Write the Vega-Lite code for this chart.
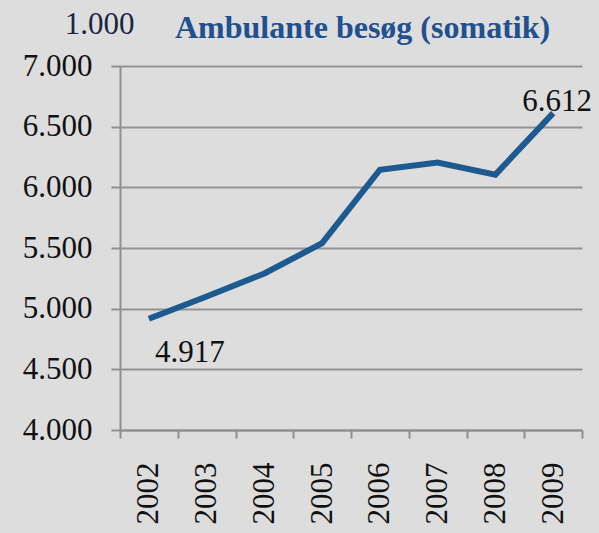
{
  "$schema": "https://vega.github.io/schema/vega-lite/v6.json",
  "autosize": "none",
  "width": 462,
  "height": 364,
  "padding": {"left": 120, "top": 66, "right": 17, "bottom": 103},
  "background": "#dddddd",
  "config": {
    "view": {"stroke": null},
    "font": "Liberation Serif"
  },
  "title": {
    "text": "Ambulante besøg (somatik)",
    "anchor": "start",
    "frame": "group",
    "dx": 55,
    "dy": 42,
    "font": "Liberation Serif",
    "fontSize": 32,
    "fontWeight": "bold",
    "color": "#22508f",
    "baseline": "alphabetic",
    "offset": -20
  },
  "data": {
    "values": [
      {"year": "2002", "value": 4917, "label": "4.917"},
      {"year": "2003", "value": 5100, "label": ""},
      {"year": "2004", "value": 5290, "label": ""},
      {"year": "2005", "value": 5540, "label": ""},
      {"year": "2006", "value": 6145, "label": ""},
      {"year": "2007", "value": 6205, "label": ""},
      {"year": "2008", "value": 6105, "label": ""},
      {"year": "2009", "value": 6612, "label": "6.612"}
    ]
  },
  "encoding": {
    "x": {
      "field": "year",
      "type": "ordinal",
      "scale": {"type": "band", "paddingInner": 0, "paddingOuter": 0},
      "axis": {
        "title": null,
        "labelAngle": -90,
        "labelFont": "Liberation Serif",
        "labelFontSize": 31,
        "labelColor": "#111111",
        "labelPadding": 24,
        "tickBand": "extent",
        "tickSize": 8,
        "tickWidth": 2,
        "tickColor": "#8f8f8f",
        "domainColor": "#8f8f8f",
        "domainWidth": 2,
        "grid": false
      }
    },
    "y": {
      "field": "value",
      "type": "quantitative",
      "scale": {"domain": [4000, 7000], "nice": false, "zero": false},
      "axis": {
        "values": [4000, 4500, 5000, 5500, 6000, 6500, 7000],
        "labelExpr": "replace(format(datum.value, ',.0f'), ',', '.')",
        "labelFont": "Liberation Serif",
        "labelFontSize": 31,
        "labelColor": "#111111",
        "labelPadding": 19,
        "tickSize": 9,
        "tickWidth": 2,
        "tickColor": "#8f8f8f",
        "domainColor": "#8f8f8f",
        "domainWidth": 2,
        "grid": true,
        "gridColor": "#939393",
        "gridWidth": 2,
        "title": "1.000",
        "titleFont": "Liberation Serif",
        "titleFontSize": 31,
        "titleFontWeight": "normal",
        "titleColor": "#1a2440",
        "titleAngle": 0,
        "titleAlign": "right",
        "titleBaseline": "alphabetic",
        "titleX": 14,
        "titleY": -33
      }
    }
  },
  "layer": [
    {
      "mark": {"type": "line", "color": "#1c5a8f", "strokeWidth": 6, "strokeJoin": "miter"}
    },
    {
      "transform": [{"filter": "datum.year == '2002'"}],
      "mark": {"type": "text", "align": "left", "baseline": "alphabetic", "dx": 6, "dy": 43, "fontSize": 31, "font": "Liberation Serif", "color": "#111111"},
      "encoding": {"text": {"field": "label"}}
    },
    {
      "transform": [{"filter": "datum.year == '2009'"}],
      "mark": {"type": "text", "align": "center", "baseline": "alphabetic", "dx": 4, "dy": -2, "fontSize": 31, "font": "Liberation Serif", "color": "#111111"},
      "encoding": {"text": {"field": "label"}}
    }
  ]
}
